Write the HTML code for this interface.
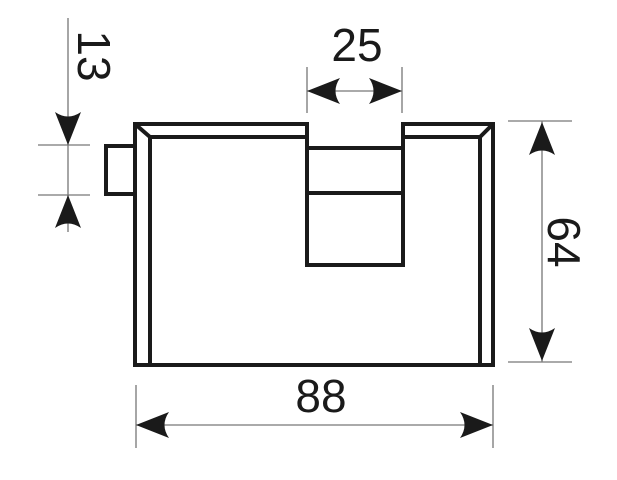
<!DOCTYPE html>
<html><head><style>
html,body{margin:0;padding:0;background:#fff;}
svg{display:block}
text{font-family:"Liberation Sans",sans-serif;font-size:46px;fill:#1a1a1a}
</style></head><body>
<svg width="617" height="480" viewBox="0 0 617 480" xmlns="http://www.w3.org/2000/svg">
<defs>
<path id="ar" d="M0,0 L-33,-13 Q-24,0 -33,13 Z" fill="#1a1a1a"/>
</defs>
<g fill="none" stroke="#1a1a1a" stroke-width="4">
<!-- outer body -->
<path d="M135,124 H307 V265 H403 V124 H493 V365 H135 Z"/>
<!-- inner bevel -->
<path d="M150,365 V137 H307 M403,137 H480 V365"/>
<path d="M135,124 L150,137 M493,124 L480,137"/>
<!-- notch lines -->
<path d="M307,148 H403 M307,193 H403"/>
<!-- stub -->
<path d="M135,146 H106 V194 H135"/>
</g>
<g stroke="#777" stroke-width="1.3" fill="none">
<!-- left dim -->
<path d="M68,18 V232 M38,145 H90 M38,195 H90"/>
<!-- top dim -->
<path d="M307,67 V113 M402,67 V113 M307,91 H402"/>
<!-- right dim -->
<path d="M508,121 H572 M508,362 H572 M542,121 V362"/>
<!-- bottom dim -->
<path d="M136,385 V448 M493,385 V448 M136,425 H493"/>
</g>
<!-- arrows -->
<use href="#ar" transform="translate(68,145) rotate(90)"/>
<use href="#ar" transform="translate(68,195) rotate(-90)"/>
<use href="#ar" transform="translate(307,91) rotate(180)"/>
<use href="#ar" transform="translate(402,91)"/>
<use href="#ar" transform="translate(542,122) rotate(-90)"/>
<use href="#ar" transform="translate(542,361) rotate(90)"/>
<use href="#ar" transform="translate(136,425) rotate(180)"/>
<use href="#ar" transform="translate(493,425)"/>
<!-- labels -->
<text x="357" y="61" text-anchor="middle">25</text>
<text x="321" y="412" text-anchor="middle">88</text>
<text transform="translate(78,56) rotate(90)" text-anchor="middle">13</text>
<text transform="translate(548,242) rotate(90)" text-anchor="middle">64</text>
</svg>
</body></html>
